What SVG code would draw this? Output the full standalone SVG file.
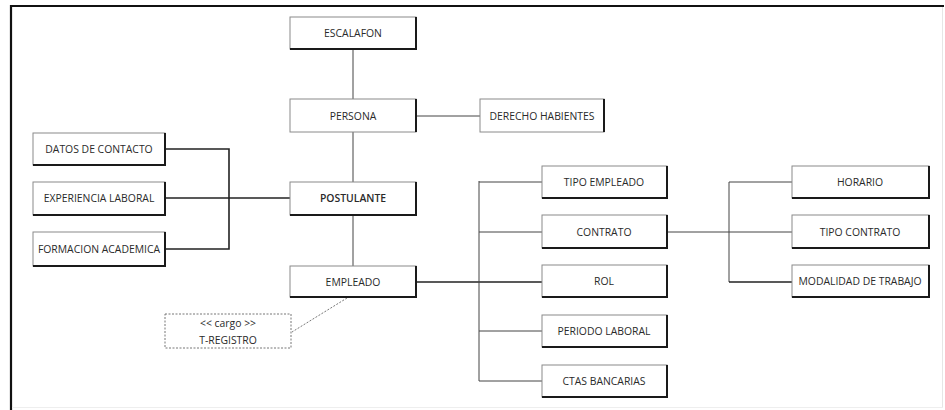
<svg xmlns="http://www.w3.org/2000/svg" width="945" height="410" viewBox="0 0 945 410">
  <style>
    .box { fill: #ffffff; stroke: #8a8a8a; stroke-width: 1; }
    .edge { fill: none; stroke: #1a1a1a; stroke-width: 2; }
    .lbl { font-family: "Open Sans", "Liberation Sans", sans-serif; font-size: 10.4px; fill: #2a2a2a; text-anchor: middle; dominant-baseline: central; }
    .conn { fill: none; stroke: #444444; stroke-width: 1; }
    .thick { stroke: #222222; stroke-width: 1.6; }
    .dash { fill: none; stroke: #777777; stroke-width: 1; stroke-dasharray: 2 1.5; }
  </style>
  <rect width="945" height="410" fill="#ffffff"/>
  <!-- page frame -->
  <line x1="10" y1="6" x2="944" y2="6" stroke="#111" stroke-width="2"/>
  <line x1="11" y1="5" x2="11" y2="410" stroke="#111" stroke-width="2.2"/>
  <line x1="942.5" y1="7" x2="942.5" y2="407" stroke="#e6e6e6" stroke-width="1"/>
  <line x1="12" y1="407.5" x2="943" y2="407.5" stroke="#eeeeee" stroke-width="1"/>

  <g id="connectors">
    <line class="conn" x1="353" y1="49" x2="353" y2="99"/>
    <line class="conn" x1="416" y1="116" x2="480" y2="116"/>
    <line class="conn" x1="353" y1="132" x2="353" y2="182"/>
    <line class="conn" x1="353" y1="215" x2="353" y2="266"/>
    <polyline class="conn thick" points="165,149 229,149 229,249 165,249"/>
    <line class="conn thick" x1="165" y1="198" x2="290" y2="198"/>
    <line class="conn thick" x1="416" y1="282" x2="542" y2="282"/>
    <line class="conn" x1="479" y1="181" x2="479" y2="381"/>
    <line class="conn" x1="479" y1="182" x2="542" y2="182"/>
    <line class="conn" x1="479" y1="232" x2="542" y2="232"/>
    <line class="conn" x1="479" y1="331" x2="542" y2="331"/>
    <line class="conn" x1="479" y1="381" x2="542" y2="381"/>
    <line class="conn" stroke="#888" x1="667" y1="232" x2="792" y2="232"/>
    <line class="conn" x1="729" y1="182" x2="729" y2="282"/>
    <line class="conn" x1="729" y1="182" x2="792" y2="182"/>
    <line class="conn thick" x1="729" y1="282" x2="792" y2="282"/>
    <line class="dash" x1="347" y1="298" x2="292" y2="332"/>
  </g>

  <g id="escalafon">
    <rect class="box" x="290" y="17" width="126" height="32"/>
    <polyline class="edge" points="416,17 416,49 290,49"/>
    <text class="lbl" x="353" y="33">ESCALAFON</text>
  </g>
  <g id="persona">
    <rect class="box" x="290" y="99" width="126" height="33" stroke="#aaa"/>
    <line class="edge" x1="416" y1="99" x2="416" y2="132"/>
    <text class="lbl" x="353" y="116">PERSONA</text>
  </g>
  <g id="derecho-habientes">
    <rect class="box" x="480" y="99" width="124" height="33" stroke="#aaa"/>
    <line class="edge" x1="604" y1="99" x2="604" y2="132"/>
    <text class="lbl" x="542" y="116">DERECHO HABIENTES</text>
  </g>
  <g id="datos-contacto">
    <rect class="box" x="33" y="133" width="132" height="32"/>
    <polyline class="edge" points="165,133 165,165 33,165" stroke="#555"/>
    <text class="lbl" x="99" y="149">DATOS DE CONTACTO</text>
  </g>
  <g id="experiencia-laboral">
    <rect class="box" x="33" y="182" width="132" height="33"/>
    <polyline class="edge" points="165,182 165,215 33,215" stroke="#555"/>
    <text class="lbl" x="99" y="198">EXPERIENCIA LABORAL</text>
  </g>
  <g id="formacion-academica">
    <rect class="box" x="33" y="232" width="132" height="34"/>
    <polyline class="edge" points="165,232 165,266 33,266" stroke="#555"/>
    <text class="lbl" x="99" y="249">FORMACION ACADEMICA</text>
  </g>
  <g id="postulante">
    <rect class="box" x="290" y="182" width="126" height="33"/>
    <polyline class="edge" points="416,182 416,215 290,215"/>
    <text class="lbl" x="353" y="198" font-weight="600">POSTULANTE</text>
  </g>
  <g id="empleado">
    <rect class="box" x="290" y="266" width="126" height="31"/>
    <polyline class="edge" points="416,266 416,297 290,297"/>
    <text class="lbl" x="353" y="282">EMPLEADO</text>
  </g>
  <g id="t-registro">
    <rect class="dash" x="165" y="314" width="126" height="34"/>
    <text class="lbl" x="228" y="323">&lt;&lt; cargo &gt;&gt;</text>
    <text class="lbl" x="228" y="340">T-REGISTRO</text>
  </g>
  <g id="tipo-empleado">
    <rect class="box" x="542" y="166" width="125" height="32"/>
    <polyline class="edge" points="667,166 667,198 542,198"/>
    <text class="lbl" x="604" y="182">TIPO EMPLEADO</text>
  </g>
  <g id="contrato">
    <rect class="box" x="542" y="215" width="125" height="33"/>
    <polyline class="edge" points="667,215 667,248 542,248"/>
    <text class="lbl" x="604" y="232">CONTRATO</text>
  </g>
  <g id="rol">
    <rect class="box" x="542" y="265" width="125" height="32"/>
    <polyline class="edge" points="667,265 667,297 542,297"/>
    <text class="lbl" x="604" y="281">ROL</text>
  </g>
  <g id="periodo-laboral">
    <rect class="box" x="542" y="315" width="125" height="32"/>
    <polyline class="edge" points="667,315 667,347 542,347"/>
    <text class="lbl" x="604" y="331">PERIODO LABORAL</text>
  </g>
  <g id="ctas-bancarias">
    <rect class="box" x="542" y="365" width="125" height="32"/>
    <polyline class="edge" points="667,365 667,397 542,397"/>
    <text class="lbl" x="604" y="381">CTAS BANCARIAS</text>
  </g>
  <g id="horario">
    <rect class="box" x="792" y="166" width="137" height="32"/>
    <polyline class="edge" points="929,166 929,198 792,198"/>
    <text class="lbl" x="860" y="182">HORARIO</text>
  </g>
  <g id="tipo-contrato">
    <rect class="box" x="792" y="215" width="137" height="33"/>
    <polyline class="edge" points="929,215 929,248 792,248"/>
    <text class="lbl" x="860" y="232">TIPO CONTRATO</text>
  </g>
  <g id="modalidad-trabajo">
    <rect class="box" x="792" y="265" width="137" height="32"/>
    <polyline class="edge" points="929,265 929,297 792,297"/>
    <text class="lbl" x="860" y="281">MODALIDAD DE TRABAJO</text>
  </g>
</svg>
